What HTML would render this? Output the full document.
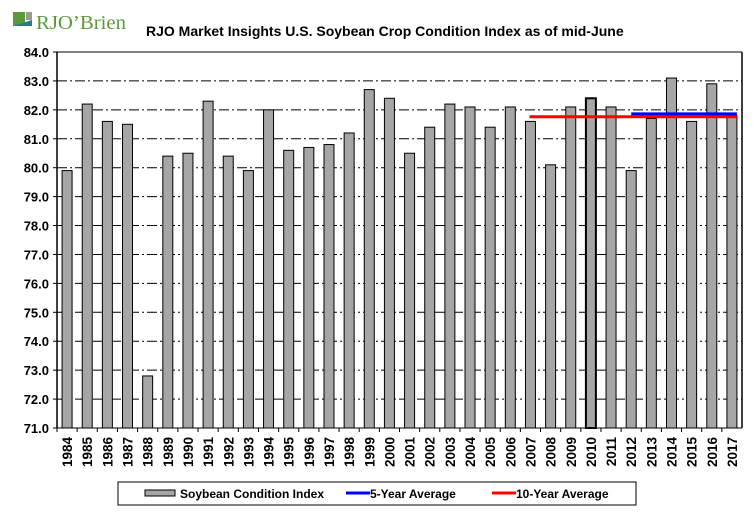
<!DOCTYPE html>
<html><head><meta charset="utf-8"><style>
body{margin:0;background:#fff;}
svg text{font-family:"Liberation Sans",Arial,sans-serif;font-weight:bold;}
</style></head><body>
<svg id="c" width="756" height="516" xmlns="http://www.w3.org/2000/svg">
<g>
<rect x="13" y="12" width="12" height="14" fill="#5a9a3a"/>
<rect x="26" y="12" width="6" height="8" fill="#999"/>
<polygon points="13,26 32,20 32,26" fill="#2a7a8a"/>
<text x="36" y="29" font-size="20" fill="#5a9a3a" style="font-family:'Liberation Serif',serif;font-weight:normal" textLength="90" lengthAdjust="spacingAndGlyphs">RJO’Brien</text>
</g>
<text x="146" y="36" font-size="14" fill="#000">RJO Market Insights U.S. Soybean Crop Condition Index as of mid-June</text>
<g id="plot"></g>
<g>
<rect x="118" y="482" width="518" height="23" fill="#fff" stroke="#000" stroke-width="1"/>
<rect x="145" y="490" width="30" height="6" fill="#a6a6a6" stroke="#000"/>
<text x="180" y="498" font-size="12">Soybean Condition Index</text>
<line x1="346" y1="493" x2="370" y2="493" stroke="#0000ff" stroke-width="3"/>
<text x="370" y="498" font-size="12">5-Year Average</text>
<line x1="492" y1="493" x2="516" y2="493" stroke="#ff0000" stroke-width="3"/>
<text x="516" y="498" font-size="12">10-Year Average</text>
</g>
</svg>
<script>
const years=[1984,1985,1986,1987,1988,1989,1990,1991,1992,1993,1994,1995,1996,1997,1998,1999,2000,2001,2002,2003,2004,2005,2006,2007,2008,2009,2010,2011,2012,2013,2014,2015,2016,2017];
const values=[79.9,82.2,81.6,81.5,72.8,80.4,80.5,82.3,80.4,79.9,82.0,80.6,80.7,80.8,81.2,82.7,82.4,80.5,81.4,82.2,82.1,81.4,82.1,81.6,80.1,82.1,82.4,82.1,79.9,81.7,83.1,81.6,82.9,81.8];
const yTicks=[71,72,73,74,75,76,77,78,79,80,81,82,83,84];
const avg5=81.86, avg5Start=2012;
const avg10=81.76, avg10Start=2007;
const NS="http://www.w3.org/2000/svg";
const L=57,R=742,T=52,B=428,ymin=71,ymax=84;
const cw=(R-L)/years.length;
const y=v=>B-(v-ymin)/(ymax-ymin)*(B-T);
const xc=i=>L+cw*(i+0.5);
const g=document.getElementById('plot');
function mk(t,a){const e=document.createElementNS(NS,t);for(const k in a)e.setAttribute(k,a[k]);g.appendChild(e);return e;}
yTicks.forEach(v=>{
 if(v>ymin){const l=mk('line',{x1:L,x2:R,y1:y(v),y2:y(v),stroke:'#000','stroke-width':1,'stroke-dasharray':'10,3,2,3'});
 
 }
 mk('line',{x1:L-4,x2:L,y1:y(v),y2:y(v),stroke:'#000'});
 const t=mk('text',{x:L-8,y:y(v)+5,'text-anchor':'end','font-size':13});t.textContent=v.toFixed(1);
 
 
});
values.forEach((v,i)=>{
 const r=mk('rect',{x:xc(i)-5,y:y(v),width:10,height:B-y(v),fill:'#a6a6a6',stroke:'#000','stroke-width':years[i]===2010?2:1});
 
 
 mk('line',{x1:L+cw*i,x2:L+cw*i,y1:B,y2:B+4,stroke:'#000'});
 const t=mk('text',{x:0,y:0,'font-size':13.5,'text-anchor':'end',transform:`translate(${xc(i)+5},${B+9}) rotate(-90)`});t.textContent=years[i];
 
 
});
mk('line',{x1:L,x2:L,y1:T,y2:B,stroke:'#000','stroke-width':1.5});
mk('line',{x1:R,x2:R,y1:T,y2:B,stroke:'#000','stroke-width':1.5});
mk('line',{x1:L,x2:R,y1:T,y2:T,stroke:'#000','stroke-width':1});
mk('line',{x1:L,x2:R,y1:B,y2:B,stroke:'#000','stroke-width':1});
const i10=years.indexOf(avg10Start),i5=years.indexOf(avg5Start),n=years.length-1;
const l10=mk('line',{x1:xc(i10)-1,x2:xc(n)+5,y1:y(avg10),y2:y(avg10),stroke:'#ff0000','stroke-width':3});


const l5=mk('line',{x1:xc(i5),x2:xc(n)+5,y1:y(avg5),y2:y(avg5),stroke:'#0000ff','stroke-width':3});


</script>
</body></html>
